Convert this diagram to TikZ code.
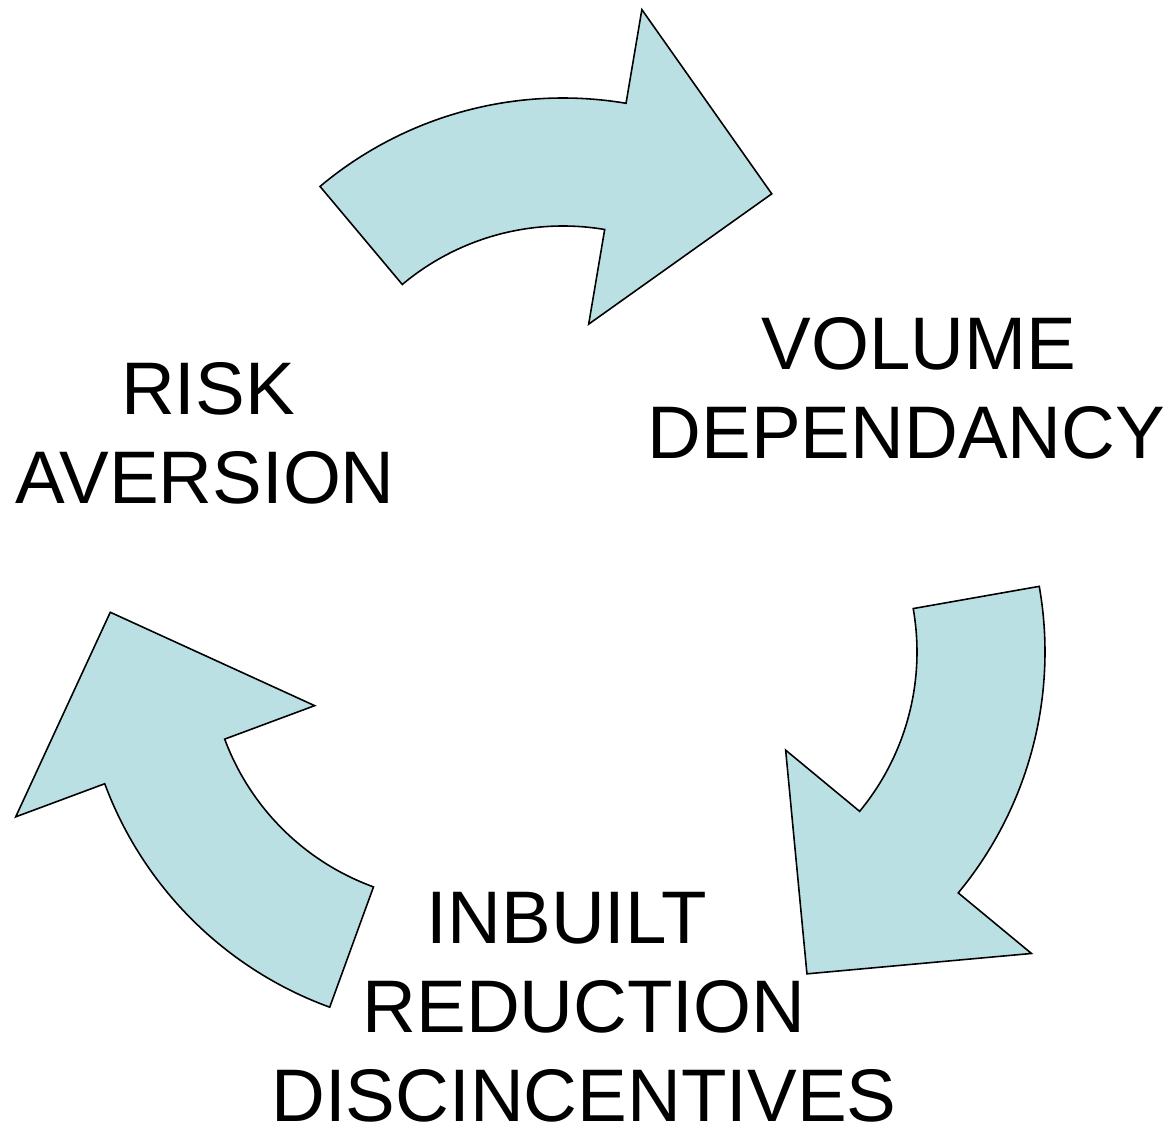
\documentclass[tikz,border=0pt]{standalone}
\usepackage{fontspec}
\setmainfont{Liberation Sans}
\usepackage{tikz}
\usepackage{xcolor}
\definecolor{arrowblue}{RGB}{187,224,227}

\begin{document}
\begin{tikzpicture}[
    cyclearrow/.style={fill=arrowblue, draw=black, line width=0.45pt, line join=miter},
    cycletext/.style={align=center, inner sep=0pt, anchor=base, font=\fontsize{21.2}{25.4}\selectfont}]
	\useasboundingbox (0,0) rectangle (11.71,-11.27);
	% top arrow
	\draw[cyclearrow, shift={(5.63,-4.76)}] (130:3.78) arc[start angle=130, end angle=80.4, radius=3.78]
		-- (80.4:4.73) -- (53.5:3.51) -- (80.4:1.54) -- (80.4:2.50)
		arc[start angle=80.4, end angle=130, radius=2.50] -- cycle;
	% right arrow
	\draw[cyclearrow, shift={(6.67,-6.52)}] (10:3.78) arc[start angle=10, end angle=-39.6, radius=3.78]
		-- (-39.6:4.73) -- (-66.5:3.51) -- (-39.6:1.54) -- (-39.6:2.50)
		arc[start angle=-39.6, end angle=10, radius=2.50] -- cycle;
	% left arrow
	\draw[cyclearrow, shift={(4.59,-6.52)}] (250:3.78) arc[start angle=250, end angle=200.4, radius=3.78]
		-- (200.4:4.73) -- (173.5:3.51) -- (200.4:1.54) -- (200.4:2.50)
		arc[start angle=200.4, end angle=250, radius=2.50] -- cycle;
	\node[cycletext] (risk) at (2.05,-5.04) {\hspace*{0.06cm}RISK\\AVERSION};
	\node[cycletext] (volume) at (9.065,-4.59) {\hspace*{0.25cm}VOLUME\\DEPENDANCY};
	\node[cycletext] (inbuilt) at (5.84,-11.22) {INBUILT\hspace*{0.34cm}\\REDUCTION\\DISCINCENTIVES};
\end{tikzpicture}
\end{document}
